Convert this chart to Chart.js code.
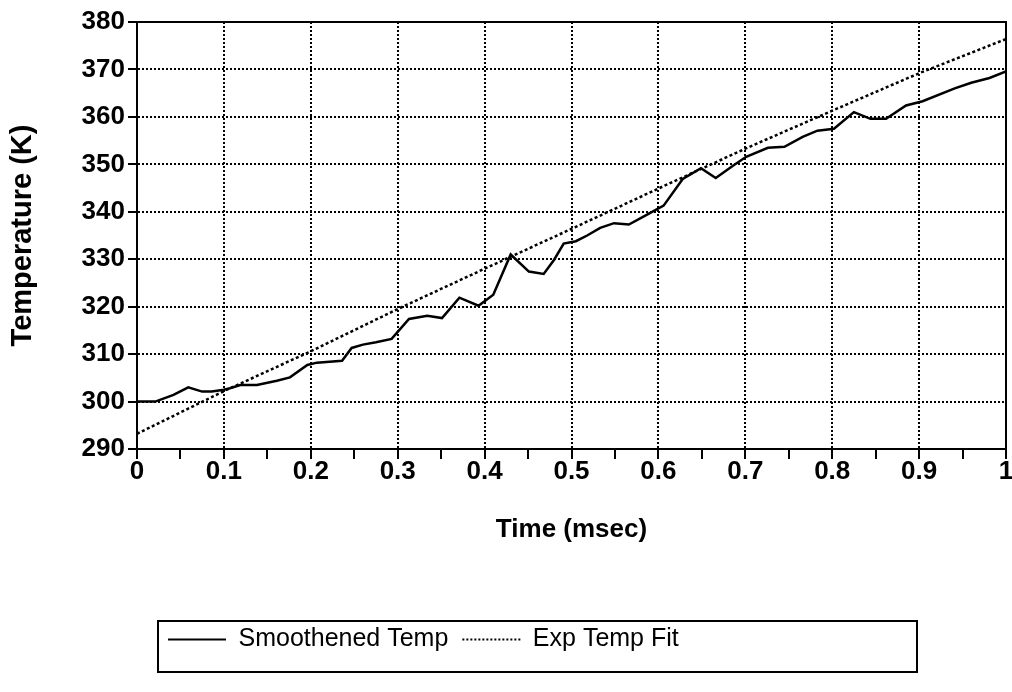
<!DOCTYPE html>
<html>
<head>
<meta charset="UTF-8">
<title>Smoothened Temp vs Exp Temp Fit</title>
<script src="https://cdn.jsdelivr.net/npm/chart.js"></script>
<style>
  body { margin: 0; background: #fff; }
  canvas { display: block; }
</style>
</head>
<body>
<canvas id="chart" width="1012" height="692"></canvas>

<script>
// smoothed measurement (time in msec, temperature in K)
const timeSmooth = [0, 0.021, 0.042, 0.059, 0.075, 0.086, 0.1, 0.107, 0.119, 0.138,
  0.161, 0.176, 0.196, 0.207, 0.236, 0.247, 0.26, 0.275, 0.293, 0.313,
  0.334, 0.351, 0.371, 0.393, 0.41, 0.43, 0.451, 0.468, 0.48, 0.491,
  0.505, 0.518, 0.533, 0.549, 0.566, 0.587, 0.606, 0.628, 0.649, 0.666,
  0.685, 0.701, 0.726, 0.745, 0.766, 0.783, 0.802, 0.825, 0.844, 0.862,
  0.885, 0.904, 0.941, 0.96, 0.981, 1.0];
const tempSmooth = [300, 300, 301.4, 303.0, 302.1, 302.1, 302.5, 302.8, 303.5, 303.5,
  304.4, 305.1, 307.7, 308.2, 308.6, 311.3, 312.0, 312.5, 313.2, 317.4,
  318.1, 317.6, 321.9, 320.2, 322.5, 331.0, 327.4, 326.9, 329.9, 333.3,
  333.8, 335.0, 336.6, 337.6, 337.3, 339.4, 341.3, 346.9, 349.2, 347.1,
  349.6, 351.6, 353.5, 353.7, 355.8, 357.1, 357.5, 361.0, 359.6, 359.6,
  362.4, 363.3, 366.0, 367.2, 368.2, 369.6];

// exponential fit
const timeFit = [0, 0.1, 0.2, 0.3, 0.4, 0.5, 0.6, 0.7, 0.8, 0.9, 1.0];
const tempFit = [293.2, 302.2, 310.6, 319.5, 328.0, 336.4, 344.9, 353.3, 361.3, 369.2, 376.4];

const seriesNames = ["Smoothened Temp", "Exp Temp Fit"];

const FONT = "'Liberation Sans', Arial, Helvetica, sans-serif";

function toPoints(xs, ys) {
  return xs.map((x, i) => ({ x: x, y: ys[i] }));
}

function isTenth(v) {
  return Math.round(v * 100) % 10 === 0;
}

// frame around plot + box around legend
const framePlugin = {
  id: 'frame',
  afterLayout(chart) {
    // move legend items to the left, like the original
    chart.legend.left = 154;
  },
  afterDraw(chart) {
    const ctx = chart.ctx;
    const a = chart.chartArea;
    ctx.save();
    ctx.strokeStyle = '#000';
    ctx.lineWidth = 2;
    ctx.strokeRect(a.left, a.top, a.right - a.left, a.bottom - a.top);
    ctx.strokeRect(158, 621, 917 - 158, 672 - 621);
    ctx.restore();
  }
};

new Chart(document.getElementById("chart"), {
  type: 'line',
  data: {
    datasets: [{
      label: seriesNames[0],
      data: toPoints(timeSmooth, tempSmooth),
      borderColor: '#000',
      backgroundColor: 'transparent',
      borderWidth: 2.5,
      pointRadius: 0,
      tension: 0
    }, {
      label: seriesNames[1],
      data: toPoints(timeFit, tempFit),
      borderColor: '#000',
      backgroundColor: 'transparent',
      borderWidth: 2.5,
      borderDash: [3, 2.5],
      pointRadius: 0,
      tension: 0
    }]
  },
  options: {
    responsive: false,
    animation: false,
    layout: { padding: { top: 22, right: 6, left: 0, bottom: 30 } },
    plugins: {
      legend: {
        position: 'bottom',
        align: 'start',
        labels: {
          usePointStyle: true,
          pointStyle: 'line',
          pointStyleWidth: 58,
          padding: 14,
          color: '#000',
          font: { family: FONT, size: 25 },
          generateLabels(chart) {
            const items = Chart.defaults.plugins.legend.labels.generateLabels(chart);
            items.forEach((it, i) => {
              const ds = chart.data.datasets[i];
              it.lineDash = ds.borderDash ? [2, 2] : [];
              it.lineWidth = 2;
              it.strokeStyle = '#000';
            });
            return items;
          }
        }
      },
      tooltip: { enabled: false }
    },
    scales: {
      x: {
        type: 'linear',
        min: 0,
        max: 1,
        afterFit(s) {
          const lg = s.chart.legend ? s.chart.legend.height : 49;
          s.height = 692 - 30 - 449 - lg;
        },
        ticks: {
          stepSize: 0.05,
          autoSkip: false,
          maxRotation: 0,
          padding: -3,
          color: '#000',
          font: { family: FONT, size: 26, weight: 'bold' },
          callback: v => isTenth(v) ? (Math.round(v * 10) / 10).toString() : ''
        },
        grid: {
          color: c => (c.tick && isTenth(c.tick.value)) ? '#000' : 'transparent',
          lineWidth: 2,
          tickColor: '#000',
          tickWidth: 2,
          tickLength: 10
        },
        border: { display: true, color: '#000', width: 2, dash: [2, 2] },
        title: {
          display: true,
          text: 'Time (msec)',
          color: '#000',
          font: { family: FONT, size: 26, weight: 'bold' },
          padding: { top: 4, bottom: 68 }
        }
      },
      y: {
        min: 290,
        max: 380,
        afterFit(s) { s.width = 137; },
        ticks: {
          stepSize: 10,
          padding: 3,
          color: '#000',
          font: { family: FONT, size: 26, weight: 'bold' }
        },
        grid: {
          color: '#000',
          lineWidth: 2,
          tickColor: '#000',
          tickWidth: 2,
          tickLength: 9
        },
        border: { display: true, color: '#000', width: 2, dash: [2, 2] },
        title: {
          display: true,
          text: 'Temperature (K)',
          color: '#000',
          font: { family: FONT, size: 29, weight: 'bold' },
          padding: { top: 6, bottom: 0 }
        }
      }
    }
  },
  plugins: [framePlugin]
});
</script>
</body>
</html>
